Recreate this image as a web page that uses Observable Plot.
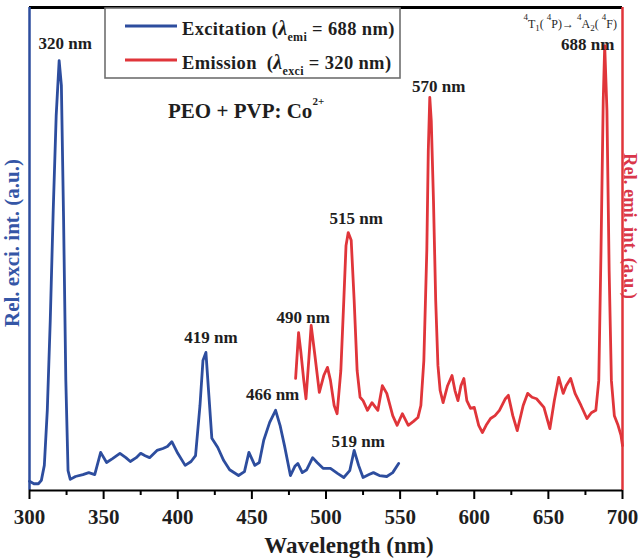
<!DOCTYPE html>
<html>
<head>
<meta charset="utf-8">
<script src="https://cdn.jsdelivr.net/npm/d3@7"></script>
<script src="https://cdn.jsdelivr.net/npm/@observablehq/plot@0.6"></script>
<style>
  body { margin: 0; background: #fff; }
  svg { display: block; }
</style>
</head>
<body>
<div id="chart"></div>
<script>
// Excitation spectrum (λemi = 688 nm): wavelength (nm) and relative intensity
const excNm = [300, 303, 306, 308, 310, 312, 314, 316, 318, 320, 321.5, 323, 324.5, 326, 327.5,
  331, 336, 340, 344, 348, 352, 356, 361, 365, 368, 372, 375, 378, 381, 386, 390, 393, 396, 400,
  405, 409, 412, 415, 417, 419, 421, 423, 427, 431, 435, 441, 445, 448, 452, 455, 458, 462, 466,
  469, 472, 476, 479, 481, 484, 487, 491, 494, 498, 503, 508, 512, 516, 519, 522, 525, 529, 532,
  536, 541, 545, 549];
const excVal = [1.9, 1.4, 1.4, 2.1, 5.2, 16.6, 35.2, 58.0, 77.6, 89.0, 83.9, 55.9, 22.8, 4.1, 2.3,
  2.9, 3.3, 3.7, 3.3, 7.9, 5.8, 6.6, 7.7, 6.8, 6.0, 6.8, 7.7, 7.2, 6.8, 8.3, 8.7, 9.1, 10.1, 7.7,
  5.2, 6.0, 7.2, 17.6, 26.9, 28.6, 19.7, 10.8, 8.9, 6.2, 4.3, 3.1, 3.9, 7.9, 5.2, 5.8, 10.4, 14.1, 16.6,
  13.5, 9.3, 3.1, 5.0, 5.6, 3.7, 4.3, 6.8, 5.8, 4.6, 4.6, 3.5, 2.7, 4.1, 8.3, 5.2, 2.7, 3.3, 3.7,
  3.1, 2.9, 3.7, 5.6];

// Emission spectrum (λexci = 320 nm)
const emiNm = [479.5, 481.5, 483, 485, 486.5, 488.5, 490, 492.5, 495.5, 498.5, 501, 503, 505.5, 507.5,
  510, 512, 513.5, 515, 517, 519, 521, 523, 525, 528, 531, 535, 538, 541, 545, 548, 551.5, 555.5,
  559, 562, 564, 566, 568, 569, 570, 571, 572.5, 574, 575.5, 577, 579, 582, 585, 587, 589, 591,
  593, 595, 597.5, 600, 603, 605.5, 608, 611, 614, 617, 621, 623, 626, 629, 633, 636, 639, 642,
  647, 651, 654, 657, 660, 662, 665, 668, 672, 676, 679, 682, 684, 685.5, 687, 688, 689.5, 691,
  692.5, 694.5, 697, 699, 700];
const emiVal = [23.2, 32.7, 28.8, 22.8, 19.0, 27.5, 34.2, 28.0, 20.3, 23.8, 25.5, 22.8, 17.6, 15.9,
  24.8, 39.3, 50.7, 53.4, 51.8, 39.3, 24.8, 19.3, 18.6, 16.6, 18.2, 16.6, 21.7, 20.1, 15.5, 13.5, 15.9, 13.5,
  14.3, 15.1, 17.6, 26.9, 49.7, 70.4, 81.4, 76.6, 60.0, 39.3, 25.9, 20.7, 18.2, 21.7, 23.8, 20.7, 18.6, 21.7,
  23.2, 18.6, 17.0, 17.2, 13.5, 12.0, 13.5, 14.9, 15.5, 16.6, 19.0, 19.7, 15.5, 12.4, 17.6, 20.1, 19.3, 19.0,
  17.2, 12.8, 18.6, 23.4, 20.1, 21.7, 23.2, 20.1, 17.6, 14.9, 16.1, 16.6, 22.8, 49.7, 80.7, 92.1, 78.7, 45.5,
  22.8, 15.5, 13.5, 11.4, 9.3];

// Labelled peaks (nm)
const excPeaks = [320, 419, 466, 519];
const emiPeaks = [490, 515, 570, 688];

// Wavelength ticks
const majorTicks = [300, 350, 400, 450, 500, 550, 600, 650, 700];
const minorTicks = [325, 375, 425, 475, 525, 575, 625, 675];

const blue = "#2d4d9e";
const red = "#e0353a";
const ink = "#1e1e1e";
const serif = "'Liberation Serif', 'Times New Roman', serif";

const excitation = excNm.map((nm, i) => ({nm, v: excVal[i]}));
const emission = emiNm.map((nm, i) => ({nm, v: emiVal[i]}));
const peakValue = (series, nm) => series.find(d => d.nm === nm).v;

// pixel nudges for each peak label relative to its peak
const labelNudge = {
  320: [6, -12], 419: [5, -9], 466: [-3, -10], 519: [4, -3],
  490: [-8, -2], 515: [8, -9], 570: [9, -5], 688: [-17, 4]
};

const peakLabels = [
  ...excPeaks.map(nm => ({nm, v: peakValue(excitation, nm)})),
  ...emiPeaks.map(nm => ({nm, v: peakValue(emission, nm)}))
];

const labelMarks = peakLabels.map(d => Plot.text([d], {
  x: "nm", y: "v", text: p => `${p.nm} nm`,
  dx: labelNudge[d.nm][0], dy: labelNudge[d.nm][1],
  lineAnchor: "bottom", textAnchor: "middle",
  fontSize: 17, fontWeight: "bold", fill: ink
}));

const chart = Plot.plot({
  width: 641,
  height: 560,
  marginLeft: 29,
  marginRight: 19,
  marginTop: 7,
  marginBottom: 70,
  style: {fontFamily: serif, background: "#fff", color: ink},
  x: {domain: [300, 700]},
  y: {domain: [0, 100], axis: null},
  marks: [
    Plot.line(excitation, {x: "nm", y: "v", stroke: blue, strokeWidth: 2.8, strokeLinejoin: "round"}),
    Plot.line(emission, {x: "nm", y: "v", stroke: red, strokeWidth: 2.8, strokeLinejoin: "round"}),
    ...labelMarks,
    Plot.ruleY([100], {stroke: "#000", strokeWidth: 3}),
    Plot.ruleX([300], {stroke: blue, strokeWidth: 2.5}),
    Plot.ruleX([700], {stroke: red, strokeWidth: 2.5}),
    Plot.ruleY([0], {stroke: "#000", strokeWidth: 2.2}),
    Plot.axisX(minorTicks, {tickSize: 5, tickFormat: () => "", stroke: "#000", strokeWidth: 2, label: null}),
    Plot.axisX(majorTicks, {tickSize: 9, tickPadding: 10, stroke: "#000", strokeWidth: 2,
      fontSize: 21, fontWeight: "bold", fill: ink, label: null})
  ]
});

document.getElementById("chart").appendChild(chart);

const svg = d3.select(chart);
const xs = chart.scale("x");
const ys = chart.scale("y");

// legend box
const leg = svg.append("g").attr("font-family", serif).attr("font-weight", "bold")
  .attr("fill", ink).attr("text-anchor", "start");
leg.append("rect").attr("x", 105).attr("y", 8).attr("width", 295).attr("height", 70)
  .attr("fill", "#fff").attr("stroke", "#6f6f6f").attr("stroke-width", 1.6);
const legendRows = [
  {color: blue, y: 26, base: 35, name: "Excitation (", sub: "emi", rest: " = 688 nm)"},
  {color: red, y: 60, base: 69, name: "Emission  (", sub: "exci", rest: " = 320 nm)"}
];
legendRows.forEach(r => {
  leg.append("line").attr("x1", 125).attr("x2", 177).attr("y1", r.y).attr("y2", r.y)
    .attr("stroke", r.color).attr("stroke-width", 2.8);
  const t = leg.append("text").attr("x", 182).attr("y", r.base).attr("font-size", 18.5)
    .attr("letter-spacing", 0.35).attr("xml:space", "preserve");
  t.append("tspan").text(r.name);
  t.append("tspan").attr("font-style", "italic").attr("font-size", 20).text("λ");
  t.append("tspan").attr("font-size", 12).attr("dy", 6).text(r.sub);
  t.append("tspan").attr("dy", -6).text(r.rest);
});

// sample name
const sample = svg.append("text").attr("x", 168).attr("y", 118).attr("text-anchor", "start")
  .attr("font-family", serif).attr("font-weight", "bold").attr("font-size", 21).attr("fill", ink);
sample.append("tspan").text("PEO + PVP: Co");
sample.append("tspan").attr("font-size", 11).attr("dy", -13).text("2+");

// transition assignment above the 688 nm peak
const tx = xs.apply(688) - 34;
const ty = ys.apply(peakValue(emission, 688)) - 17;
const term = svg.append("text").attr("x", tx).attr("y", ty).attr("text-anchor", "middle")
  .attr("font-family", serif).attr("font-size", 12).attr("fill", ink);
const sup = s => term.append("tspan").attr("font-size", 9).attr("dy", -8).text(s);
const sub = s => term.append("tspan").attr("font-size", 9).attr("dy", 3).text(s);
const base = (s, dy) => term.append("tspan").attr("dy", dy).text(s);
sup("4"); base("T", 8); sub("1"); base("( ", -3); sup("4"); base("P)→ ", 8);
sup("4"); base("A", 8); sub("2"); base("( ", -3); sup("4"); base("F)", 8);

// axis titles
svg.append("text").attr("transform", "translate(349,553)").attr("text-anchor", "middle")
  .attr("font-family", serif).attr("font-weight", "bold").attr("font-size", 23).attr("fill", ink)
  .text("Wavelength (nm)");
svg.append("text").attr("transform", "translate(19,243) rotate(-90)").attr("text-anchor", "middle")
  .attr("font-family", serif).attr("font-weight", "bold").attr("font-size", 21).attr("fill", "#3556a6")
  .text("Rel. exci. int. (a.u.)");
svg.append("text").attr("transform", "translate(624,226) rotate(90)").attr("text-anchor", "middle")
  .attr("font-family", serif).attr("font-weight", "bold").attr("font-size", 18.5).attr("fill", "#d9364a")
  .text("Rel. emi. int. (a.u.)");
</script>
</body>
</html>
